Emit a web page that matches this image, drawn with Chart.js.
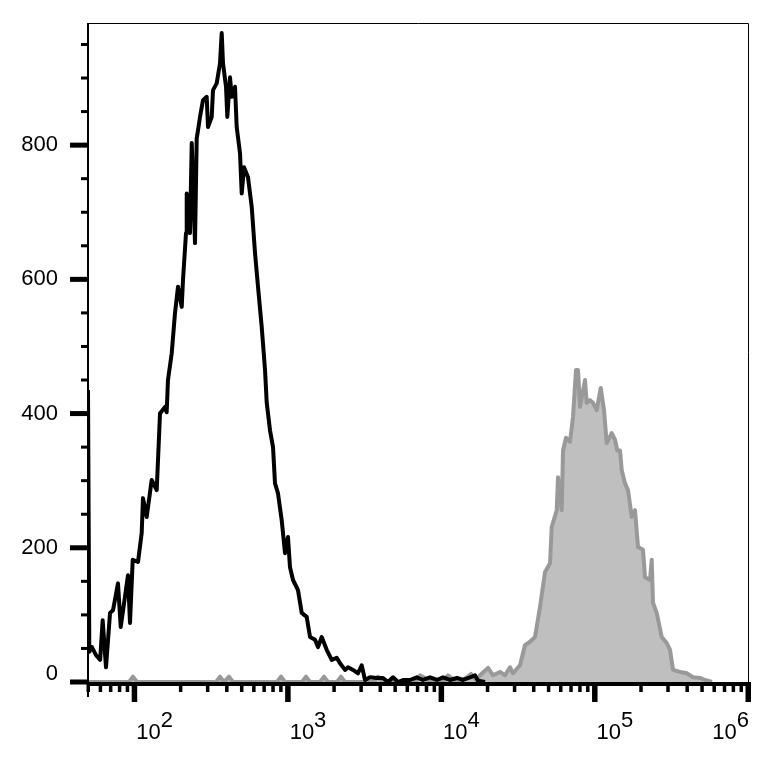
<!DOCTYPE html>
<html>
<head>
<meta charset="utf-8">
<script src="https://cdn.jsdelivr.net/npm/chart.js@4.4.1/dist/chart.umd.min.js"></script>
<style>
  html, body { margin: 0; padding: 0; background: #fff; }
</style>
</head>
<body>
<canvas id="chart" width="772" height="760"></canvas>
<script>
// black histogram (control)
const blackX = [50, 51, 53, 56.4, 60, 62.3, 65.5, 69.6, 72.8, 78.4,
  81.7, 87.1, 91.1, 93.9, 97.8, 105.9, 111.9, 114.1, 120.6, 130,
  140.2, 147.3, 158.8, 162.8, 166, 175.6, 184.5, 193, 204, 208,
  217.6, 219.9, 231, 237.1, 249.1, 255.5, 260.5, 268.4, 280.8, 296.8,
  302.7, 320, 326.3, 344.9, 362.4, 371.8, 379.1, 396.6, 404.4, 421.2,
  432, 453.9, 465.6, 489.3, 501.9, 519.5, 551.6, 583.3, 612.9, 641.1,
  677.6, 712.2, 730.5, 767.6, 802.9, 827.3, 865.4, 914.8, 961.2, 1005,
  1036, 1084, 1168, 1235, 1331, 1399, 1508, 1577, 1667, 1797,
  1937, 2088, 2194, 2365, 2474, 2667, 2874, 3038, 3193, 3441,
  3806, 4182, 4508, 4860, 5239, 5646, 6272, 6935, 7624, 8468,
  9404, 10290, 11430, 12700, 13890, 15430, 16630, 17400, 19330];
const blackY = [435, 45, 52, 40, 33, 92, 22, 103, 107, 147,
  82, 127, 159, 88, 182, 179, 222, 274, 246, 301,
  286, 400, 410, 402, 450, 490, 550, 589, 559, 599,
  669, 728, 669, 803, 654, 810, 822, 842, 867, 872,
  827, 842, 882, 892, 922, 967, 922, 887, 842, 901,
  872, 887, 827, 788, 728, 767, 752, 708, 639, 589,
  529, 465, 416, 375, 350, 296, 281, 241, 192, 216,
  171, 152, 137, 103, 97, 67, 63, 52, 67, 48,
  33, 36, 28, 18, 22, 18, 13, 25, 3, 7,
  6, 6, 0, 7, 0, 3, 3, 7, 3, 7,
  3, 7, 3, 6, 3, 7, 10, 2, 0];

// gray filled histogram (stained)
const grayX = [50, 92.5, 98.2, 104.3, 341.3, 362.4, 384.9, 414.9, 440.5, 852.4,
  905.1, 961, 1241, 1317, 1399, 1625, 1726, 1833, 2097, 2227,
  2365, 3600, 3880, 4182, 6761, 7289, 7857, 8468, 10290, 11090,
  11960, 13280, 14530, 15670, 16890, 17930, 20220, 21790, 24200, 26090,
  28120, 29420, 32680, 35230, 37960, 40930, 44120, 47560, 51270, 52590,
  56680, 57800, 61100, 62300, 65170, 69200, 72370, 75720, 78030, 80400,
  86660, 88900, 93420, 97700, 103300, 109700, 115300, 120000, 129300, 135900,
  140700, 146600, 150300, 157900, 165200, 174700, 183500, 192000, 206900, 213300,
  229900, 235800, 240400, 254200, 274000, 295300, 310200, 324600, 360600, 398700,
  438200, 486800, 524700, 582800];
const grayY = [0, 0, 8, 0, 0, 8, 0, 8, 0, 0,
  8, 0, 0, 8, 0, 0, 8, 0, 0, 8,
  0, 0, 8, 0, 0, 10, 6, 0, 0, 10,
  4, 0, 6, 12, 3, 10, 21, 10, 15, 10,
  22, 13, 25, 55, 60, 67, 112, 164, 177, 231,
  256, 305, 256, 345, 364, 358, 395, 465, 465, 410,
  450, 416, 420, 416, 405, 438, 405, 356, 371, 361,
  345, 345, 316, 296, 286, 246, 256, 201, 197, 156,
  152, 182, 118, 103, 67, 58, 48, 18, 15, 13,
  7, 6, 3, 0];

// axis ticks
const yMajor = [0, 200, 400, 600, 800];
const yMinor = [50, 100, 150, 250, 300, 350, 450, 500, 550, 650, 700, 750, 850, 900, 950];
const xDecades = [100, 1000, 10000, 100000, 1000000];
const xExponents = ["2", "3", "4", "5", "6"];
const xMinor = [];
[10, 100, 1000, 10000, 100000].forEach((d) => {
  for (let k = 2; k <= 9; k++) {
    if (d * k >= 50) xMinor.push(d * k);
  }
});

const toPoints = (xs, ys) => xs.map((v, i) => ({ x: v, y: ys[i] }));

const FONT = '22px "Liberation Sans", Arial, sans-serif';

const flowAxes = {
  id: "flowAxes",
  beforeDatasetsDraw(chart) {
    const { ctx, chartArea: a } = chart;
    ctx.save();
    ctx.fillStyle = "#000";
    // thick bottom axis bar
    ctx.fillRect(a.left - 1, a.bottom, a.right - a.left + 2, 4);
    ctx.restore();
  },
  afterDraw(chart) {
    const { ctx, chartArea: a, scales } = chart;
    const x = scales.x, y = scales.y;
    ctx.save();
    ctx.fillStyle = "#000";
    ctx.strokeStyle = "#000";
    ctx.lineWidth = 1;
    // thin top and right frame
    ctx.beginPath();
    ctx.moveTo(a.left, a.top + 0.5);
    ctx.lineTo(a.right + 0.5, a.top + 0.5);
    ctx.lineTo(a.right + 0.5, a.bottom);
    ctx.stroke();
    // left axis line, runs a bit past the bottom
    ctx.fillRect(a.left - 1, a.top, 2, a.bottom - a.top + 15);

    // y ticks
    yMinor.forEach((v) => {
      const py = y.getPixelForValue(v);
      ctx.fillRect(a.left - 7, py - 1.5, 7, 3);
    });
    yMajor.forEach((v) => {
      const py = y.getPixelForValue(v);
      ctx.fillRect(a.left - 18, py - 2.5, 18, 5);
    });
    // x ticks
    xMinor.forEach((v) => {
      const px = x.getPixelForValue(v);
      ctx.fillRect(px - 1.5, a.bottom, 3.5, 10);
    });
    xDecades.forEach((v) => {
      const px = x.getPixelForValue(v);
      ctx.fillRect(px - 2.5, a.bottom, 5.5, 20);
    });

    // y labels
    ctx.font = FONT;
    ctx.textAlign = "right";
    ctx.textBaseline = "middle";
    yMajor.forEach((v) => {
      const py = Math.min(y.getPixelForValue(v), a.bottom - 8);
      ctx.fillText(String(v), a.left - 30, py);
    });

    // x labels 10^n
    ctx.textAlign = "left";
    ctx.textBaseline = "alphabetic";
    xDecades.forEach((v, i) => {
      const px = x.getPixelForValue(v);
      const wBase = ctx.measureText("10").width;
      const wExp = ctx.measureText(xExponents[i]).width;
      let left = px + 2;
      if (left + wBase + wExp > a.right + 2) left = px + 1 - wBase - wExp;
      ctx.fillText("10", left, a.bottom + 57);
      ctx.fillText(xExponents[i], left + wBase, a.bottom + 45);
    });
    ctx.restore();
  }
};

const ctx = document.getElementById("chart");

new Chart(ctx, {
  type: "scatter",
  data: {
    datasets: [
      {
        label: "Control",
        data: toPoints(blackX, blackY),
        showLine: true,
        borderColor: "#000000",
        borderWidth: 4,
        borderJoinStyle: "round",
        pointRadius: 0,
        fill: false,
        order: 0
      },
      {
        label: "Stained",
        data: toPoints(grayX, grayY),
        showLine: true,
        borderColor: "#999999",
        backgroundColor: "#c0bfc0",
        borderWidth: 4,
        borderJoinStyle: "round",
        pointRadius: 0,
        fill: "origin",
        order: 1
      }
    ]
  },
  options: {
    responsive: false,
    animation: false,
    layout: { padding: { left: 88, top: 23, right: 24, bottom: 78 } },
    plugins: {
      legend: { display: false },
      tooltip: { enabled: false }
    },
    scales: {
      x: { type: "logarithmic", min: 50, max: 1000000, display: false },
      y: { type: "linear", min: 0, max: 982, display: false }
    }
  },
  plugins: [flowAxes]
});
</script>
</body>
</html>
